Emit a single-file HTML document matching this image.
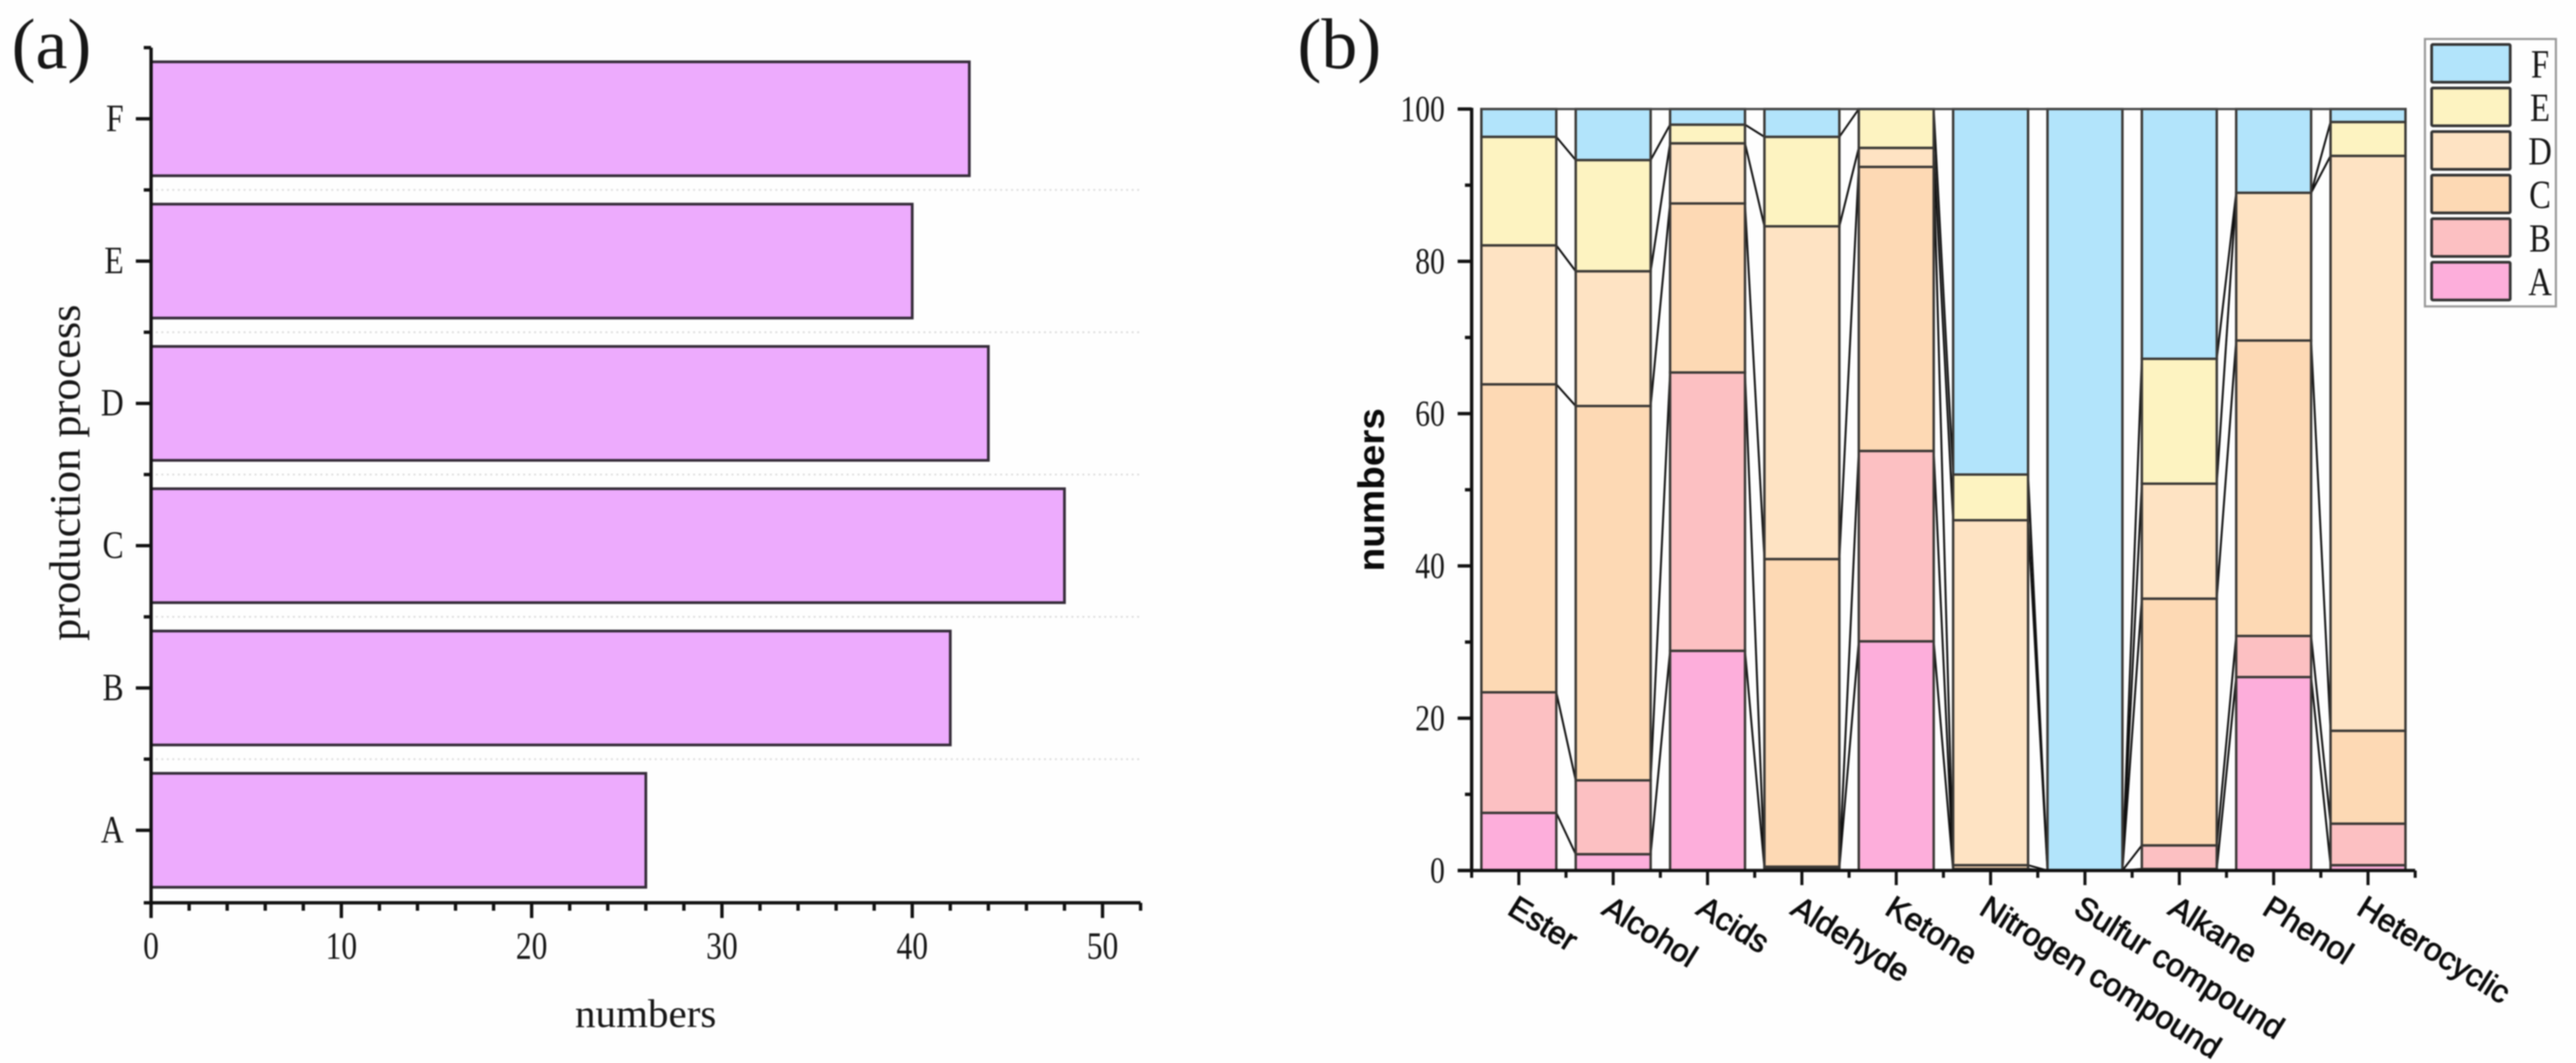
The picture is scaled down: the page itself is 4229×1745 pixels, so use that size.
<!DOCTYPE html>
<html lang="en">
<head>
<meta charset="utf-8">
<title>Production process and compound class charts</title>
<style>
html,body{margin:0;padding:0;background:#fefefe;}
body{width:4229px;height:1745px;overflow:hidden;}
svg{display:block;filter:blur(1.1px);}
text{font-family:"Liberation Serif",serif;fill:#161616;}
.sans{font-family:"Liberation Sans",sans-serif;fill:#0a0a0a;}
</style>
</head>
<body>
<svg id="figure" xmlns="http://www.w3.org/2000/svg" width="4229" height="1745" viewBox="0 0 4229 1745">
  <g id="chart-a">
    <text x="19" y="112" font-size="118">(a)</text>
    <g id="a-grid"></g>
    <g id="a-bars"></g>
    <g id="a-axes"></g>
    <text transform="translate(131,1052) rotate(-90)" font-size="72" textLength="552" lengthAdjust="spacingAndGlyphs">production process</text>
    <text x="944" y="1686" font-size="66" textLength="232" lengthAdjust="spacingAndGlyphs">numbers</text>
  </g>
  <g id="chart-b">
    <text x="2130" y="112" font-size="118">(b)</text>
    <g id="b-links"></g>
    <g id="b-bars"></g>
    <g id="b-axes"></g>
    <text class="sans" transform="translate(2272,938) rotate(-90)" font-size="60" font-weight="700" textLength="268" lengthAdjust="spacingAndGlyphs">numbers</text>
    <g id="b-legend">
      <rect x="3981" y="64" width="215" height="439" fill="#fefefe" stroke="#999" stroke-width="3.5"></rect>
    </g>
  </g>
</svg>
<script>
// Panel (a) data
var aCategories = ['A','B','C','D','E','F'];
var aValues = [26,42,48,44,40,43];
var aXTicks = [0,10,20,30,40,50];
var aXMinorTicks = [2,4,6,8,12,14,16,18,22,24,26,28,32,34,36,38,42,44,46,48,52];

// Panel (b) data: percent share per compound class
var bCategories = ['Ester','Alcohol','Acids','Aldehyde','Ketone','Nitrogen compound','Sulfur compound','Alkane','Phenol','Heterocyclic'];
var seriesA = [7.57,2.14,28.85,0.3,30.1,0,0,0.2,25.4,0.7];
var seriesB = [15.83,9.7,36.55,0.2,25,0.2,0,3.1,5.4,5.45];
var seriesC = [40.45,49.16,22.2,40.4,37.3,0.5,0,32.4,38.8,12.2];
var seriesD = [18.25,17.7,7.9,43.7,2.5,45.3,0,15.1,19.4,75.5];
var seriesE = [14.25,14.6,2.45,11.75,5.1,6,0,16.4,0,4.45];
var seriesF = [3.65,6.7,2.05,3.65,0,48,100,32.8,11,1.7];
var bSeriesNames = ['A','B','C','D','E','F'];
var bYTicks = [0,20,40,60,80,100];
var bYMinorTicks = [10,30,50,70,90];

var NS = 'http://www.w3.org/2000/svg';
function mk(parent, tag, attrs, content) {
  var el = document.createElementNS(NS, tag);
  for (var k in attrs) { el.setAttribute(k, attrs[k]); }
  if (content !== undefined) { el.textContent = content; }
  parent.appendChild(el);
  return el;
}
function line(parent, x1, y1, x2, y2, w, col) {
  return mk(parent, 'line', {x1:x1, y1:y1, x2:x2, y2:y2, stroke:col || '#111', 'stroke-width':w});
}
function squeezed(parent, x, y, str, size, anchor) {
  return mk(parent, 'text', {transform:'translate(' + x + ',' + y + ') scale(0.81,1)', 'font-size':size, 'text-anchor':anchor}, str);
}

// ---------- Panel (a) ----------
var aX = function (v) { return 248 + 31.24 * v; };
var aY = function (i) { return 1363 - 233.6 * i; };
var aBandH = 233.6, aBarH = 187;
var aGrid = document.getElementById('a-grid');
var aBars = document.getElementById('a-bars');
var aAxes = document.getElementById('a-axes');

aCategories.forEach(function (c, i) {
  if (i < aCategories.length - 1) {
    var g = line(aGrid, aX(0) + 8, aY(i) - aBandH / 2, aX(52), aY(i) - aBandH / 2, 3, '#dcdcdc');
    g.setAttribute('stroke-dasharray', '3 6');
    
    
  }
  var b = mk(aBars, 'rect', {x:aX(0), y:aY(i) - aBarH / 2, width:aX(aValues[i]) - aX(0), height:aBarH, fill:'#edabfd', stroke:'#352c39', 'stroke-width':4.5});
  
  
  var t = line(aAxes, aX(0) - 25, aY(i), aX(0), aY(i), 5.5);
  
  
  var l = squeezed(aAxes, 203, aY(i) + 20, c, 64, 'end');
  
  
});
for (var ai = 0; ai <= aCategories.length; ai++) {
  var am = line(aAxes, aX(0) - 12, aY(ai) + aBandH / 2 - aBandH, aX(0), aY(ai) + aBandH / 2 - aBandH, 5.5);
  
  
}
var aYAxis = line(aAxes, aX(0), aY(5) - aBandH / 2, aX(0), 1484, 5.5);


var aXAxis = line(aAxes, aX(0) - 12, 1482, aX(52), 1482, 5.5);


aXTicks.forEach(function (v) {
  var t = line(aAxes, aX(v), 1482, aX(v), 1507, 5.5);
  
  
  var l = squeezed(aAxes, aX(v), 1574, String(v), 64, 'middle');
  
  
});
aXMinorTicks.forEach(function (v) {
  var t = line(aAxes, aX(v), 1482, aX(v), 1495, 5.5);
  
  
});

// ---------- Panel (b) ----------
var bSeries = [seriesA, seriesB, seriesC, seriesD, seriesE, seriesF];
var bFills = ['#fdaedb','#fcc0c2','#fdd9b4','#fee3c3','#fdf3c1','#b2e4fb'];
var bPitch = 154.9, bBarW = 123, bLeft = 2416;
var bCx = function (i) { return bLeft + bPitch * (i + 0.5); };
var bY = function (v) { return 1429 - 12.5 * v; };
var bBars = document.getElementById('b-bars');
var bLinks = document.getElementById('b-links');
var bAxes = document.getElementById('b-axes');
var bLegend = document.getElementById('b-legend');

function cumulative(catIndex, seriesIndex) {
  var sum = 0;
  for (var s = 0; s <= seriesIndex; s++) { sum += bSeries[s][catIndex]; }
  return sum;
}
bCategories.forEach(function (cat, i) {
  bSeries.forEach(function (values, s) {
    var base = cumulative(i, s) - values[i];
    var r = mk(bBars, 'rect', {x:bCx(i) - bBarW / 2, y:bY(base + values[i]), width:bBarW, height:bY(base) - bY(base + values[i]), fill:bFills[s], stroke:'#3a3835', 'stroke-width':4});
    
    
    if (i < bCategories.length - 1) {
      var k = line(bLinks, bCx(i) + bBarW / 2, bY(cumulative(i, s)), bCx(i + 1) - bBarW / 2, bY(cumulative(i + 1, s)), 3.2, '#111');
      
      
    }
  });
  var t = line(bAxes, bCx(i), 1429, bCx(i), 1453, 5);
  
  
  var l = mk(bAxes, 'text', {'class':'sans', transform:'translate(' + (bCx(i) - 21) + ',1499) rotate(32)', 'font-size':52, stroke:'#111', 'stroke-width':1.4}, cat);
  
  
});
for (var bi = 0; bi <= bCategories.length; bi++) {
  var bm = line(bAxes, bLeft + bPitch * bi, 1429, bLeft + bPitch * bi, 1441, 5);
  
  
}
var bYAxis = line(bAxes, bLeft, bY(100) - 2, bLeft, 1431, 5.5);


var bXAxis = line(bAxes, bLeft - 23, 1429, bLeft + bPitch * bCategories.length, 1429, 5.5);


var bTop = line(bAxes, bLeft + 16, bY(100), bCx(9) + bBarW / 2, bY(100), 3.5, '#444');


bYTicks.forEach(function (v) {
  var t = line(bAxes, bLeft - 23, bY(v), bLeft, bY(v), 5.5);
  
  
  var l = squeezed(bAxes, 2372, bY(v) + 20, String(v), 60, 'end');
  
  
});
bYMinorTicks.forEach(function (v) {
  var t = line(bAxes, bLeft - 11, bY(v), bLeft, bY(v), 5.5);
  
  
});
bSeriesNames.forEach(function (name, s) {
  var row = bSeriesNames.length - 1 - s;
  var sw = mk(bLegend, 'rect', {x:3992, y:73 + 71.5 * row, width:129, height:62, rx:2, fill:bFills[s], stroke:'#333', 'stroke-width':4.5});
  
  
  var l = squeezed(bLegend, 4170, 127 + 71.5 * row, name, 66, 'middle');
  
  
});
</script>
</body>
</html>
